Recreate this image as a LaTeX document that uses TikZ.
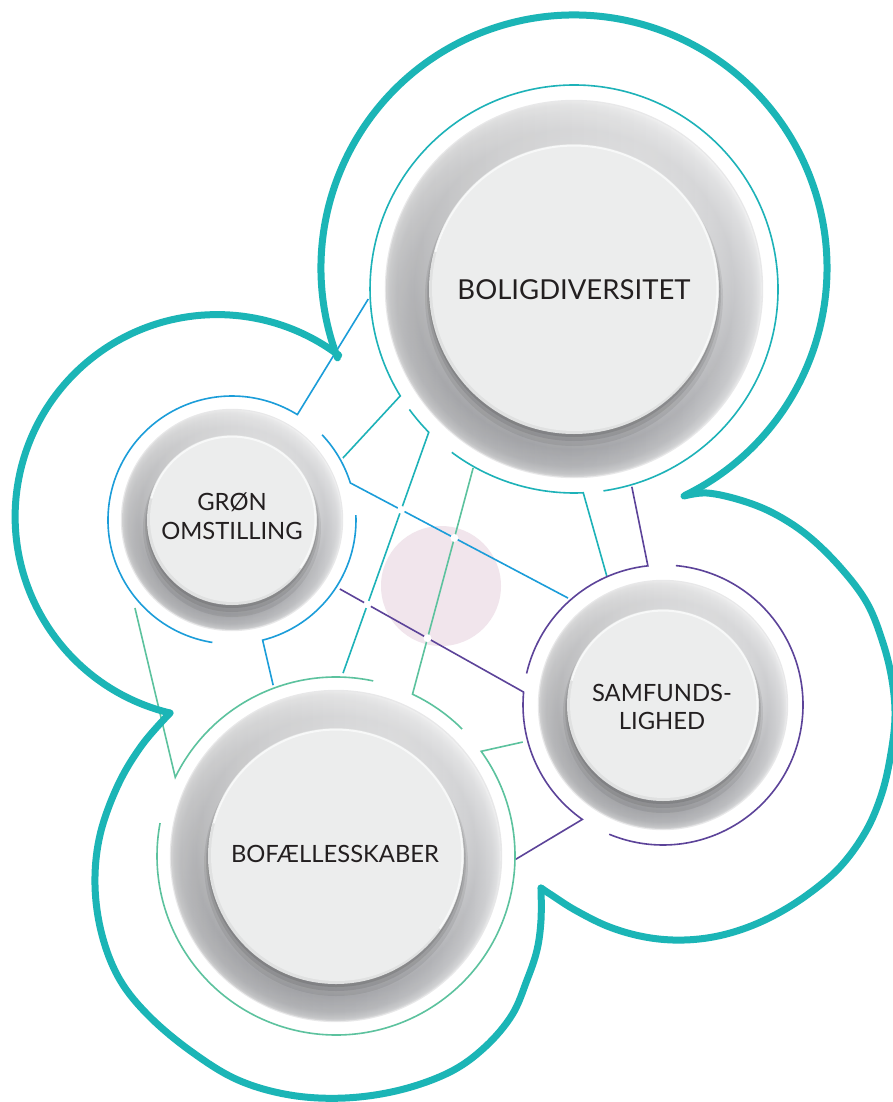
\documentclass[tikz,border=0pt]{standalone}
\usepackage{fontspec}
\setmainfont{Lato}
\usetikzlibrary{calc,intersections,fadings}

% palette
\definecolor{rimteal}{HTML}{1BB5B6}
\definecolor{lineteal}{HTML}{1DB2B8}
\definecolor{lineblue}{HTML}{1B9DD9}
\definecolor{linepurple}{HTML}{5C4399}
\definecolor{linegreen}{HTML}{5CC29E}
\definecolor{blush}{HTML}{F1E5EC}
\definecolor{textdark}{HTML}{231F20}
\definecolor{diskface}{HTML}{ECEDED}
\definecolor{diskedge}{HTML}{E0E1E1}
\definecolor{bzIn}{HTML}{B6B7BA}
\definecolor{bzMid}{HTML}{ABACB0}
\definecolor{bzOut}{HTML}{BEBFC2}
\definecolor{bzEdge}{HTML}{D2D3D5}
\definecolor{bzRim}{HTML}{E8E8E9}

% metallic bezel: 25bp corresponds to the outer radius
\pgfdeclareradialshading{bezel}{\pgfpoint{0bp}{0bp}}{%
  color(0bp)=(bzIn); color(19.3bp)=(bzIn); color(21.3bp)=(bzMid);
  color(23.6bp)=(bzOut); color(24.6bp)=(bzEdge); color(25bp)=(bzRim);
  color(50bp)=(bzRim)}
\tikzfading[name=toplight, top color=transparent!25, middle color=transparent!100, bottom color=transparent!100]
\tikzfading[name=leftshade, left color=transparent!88, middle color=transparent!100, right color=transparent!100]

\tikzset{
  bubble/.style={draw=rimteal, line width=7pt, line cap=round, line join=round},
  ringline/.style={line width=1.6pt, line cap=butt, line join=miter},
  tealline/.style={ringline, draw=lineteal},
  blueline/.style={ringline, draw=lineblue},
  purpleline/.style={ringline, draw=linepurple},
  greenline/.style={ringline, draw=linegreen},
  lbl/.style={text=textdark, align=center, inner sep=0pt,
    font=\fontsize{23.8}{28.8}\selectfont},
  lblbig/.style={lbl, font=\fontsize{27.5}{33}\selectfont},
}

% grey button: #1 centre, #2 outer radius, #3 inner radius
\newcommand{\drawknob}[3]{%
  \pgfmathsetmacro\kRimR{#2+1.2}%
  \pgfmathsetmacro\kShA{#3+4}%
  \pgfmathsetmacro\kShB{#3+2}%
  \pgfmathsetmacro\kShC{#3+0.5}%
  \pgfmathsetmacro\kFace{#3-2.2}%
  \pgfmathsetmacro\kHi{#3-1.6}%
  \fill[bzRim] (#1) circle (\kRimR);
  \shade[shading=bezel] (#1) circle (#2);
  \fill[white, path fading=toplight] (#1) circle (#2);
  \fill[black, path fading=leftshade] (#1) circle (#2);
  \begin{scope}
    \clip (#1) circle (#2);
    \fill[black, opacity=0.07] ($(#1)+(0,8)$) circle (\kShA);
    \fill[black, opacity=0.09] ($(#1)+(0,5)$) circle (\kShB);
    \fill[black, opacity=0.11] ($(#1)+(0,2.5)$) circle (\kShC);
  \end{scope}
  \fill[diskedge] (#1) circle (#3);
  \fill[diskface] ($(#1)+(0.8,-0.8)$) circle (\kFace);
  \draw[white!60!diskface, line width=2pt] ($(#1)+(-165:\kHi)$) arc (-165:35:\kHi);
}

\begin{document}
\begin{tikzpicture}[x=1pt,y=-1pt]
\useasboundingbox (0,0) rectangle (892,1102);
\fill[white] (0,0) rectangle (892,1102);

% centres of the four themes
\coordinate (cB) at (574,289);
\coordinate (cG) at (232,520);
\coordinate (cS) at (663,705);
\coordinate (cF) at (336,856);

% soft blob in the middle
\fill[blush] (441,586) circle (60);

% BOLIGDIVERSITET ring and its links
\draw[tealline] ($(cB)+(81.7:204)$) arc (81.7:-211.6:204) -- ($(cG)+(-29.2:127)$);
\draw[tealline, name path=tB] ($(cB)+(143.8:204)$) arc (143.8:135.4:204) -- ($(cF)+(-87.8:183)$);
\draw[tealline] ($(cB)+(126.8:204)$) arc (126.8:87.4:204) -- ($(cS)+(-113.6:140)$);

% GRØN OMSTILLING ring and its links
\draw[blueline] ($(cG)+(99.1:124)$) arc (99.1:301.8:124) -- ($(cB)+(177.2:206)$);
\draw[blueline, name path=gB] ($(cG)+(-43.4:124)$) arc (-43.4:-17.4:124) -- ($(cS)+(-131.6:143)$);
\draw[blueline] ($(cG)+(-2.3:124)$) arc (-2.3:75.7:124) -- ($(cF)+(-110.2:182)$);

% SAMFUNDSLIGHED ring and its links
\draw[purpleline] ($(cS)+(-84.7:140)$) arc (-84.7:112.6:140);
\draw[purpleline, name path=sB] ($(cF)+(1:180)$) -- ($(cS)+(125.2:140)$) arc (125.2:185.3:140) -- ($(cG)+(32.6:128)$);
\draw[purpleline] ($(cS)+(193:140)$) arc (193:263.8:140) -- ($(cB)+(73.7:206)$);

% BOFÆLLESSKABER ring and its links
\draw[greenline] ($(cG)+(137.8:131)$) -- ($(cF)+(206.1:179)$) arc (206.1:282:179);
\draw[greenline, name path=fB] ($(cB)+(119.4:205.5)$) -- ($(cF)+(-64.7:179)$) arc (-64.7:-45.2:179);
\draw[greenline] ($(cS)+(165.2:145)$) -- ($(cF)+(-35.8:179)$) arc (-35.8:190.6:179);

% small breaks where links cross
\path[name intersections={of=tB and gB, by=xa}];
\path[name intersections={of=fB and gB, by=xb}];
\path[name intersections={of=tB and sB, by=xc}];
\path[name intersections={of=fB and sB, by=xd}];
\foreach \p in {xa,xb,xc,xd} \fill[white] (\p) circle (4);

% buttons
\drawknob{cB}{188}{145}
\drawknob{cG}{110}{85}
\drawknob{cS}{124}{96}
\drawknob{cF}{165}{128}

% outer bubble outline
\coordinate (k1) at (337,358);
\coordinate (k2) at (685,495);
\coordinate (k3) at (541,888);
\coordinate (k4) at (170,713);
\draw[bubble] ($(574,268)+(159.2:253)$) arc (159.2:423.9:253);
\draw[bubble] (k4) arc (103.5:307:202);
\draw[bubble] plot[smooth, tension=0.6] coordinates {(684,496) (707,493) (740,500) (773,513) (807,535) (840,567) (867,603) (883,643) (892,680) (895,716) (891,753) (882,793) (866,831) (840,867) (807,895) (773,916) (740,930) (707,938) (673,940) (640,936) (607,926) (575,910) (553,896) (541,888)};
\draw[bubble] plot[smooth, tension=0.6] coordinates {(541,888) (541,920) (537,950) (527,980) (512,1015) (485,1047) (450,1072) (400,1090) (345,1098) (290,1095) (238,1080) (192,1052) (150,1017) (120,980) (102,935) (95,885) (100,835) (118,785) (142,745) (170,713)};

% labels
\node[lblbig] (bolig) at (574,290) {BOLIGDIVERSITET};
\node[lbl] (gron) at (232,516) {GRØN\\OMSTILLING};
\node[lbl] (samf) at (662,707) {SAMFUNDS-\\LIGHED};
\node[lbl] (bofae) at (335,854) {BOFÆLLESSKABER};
\end{tikzpicture}
\end{document}
